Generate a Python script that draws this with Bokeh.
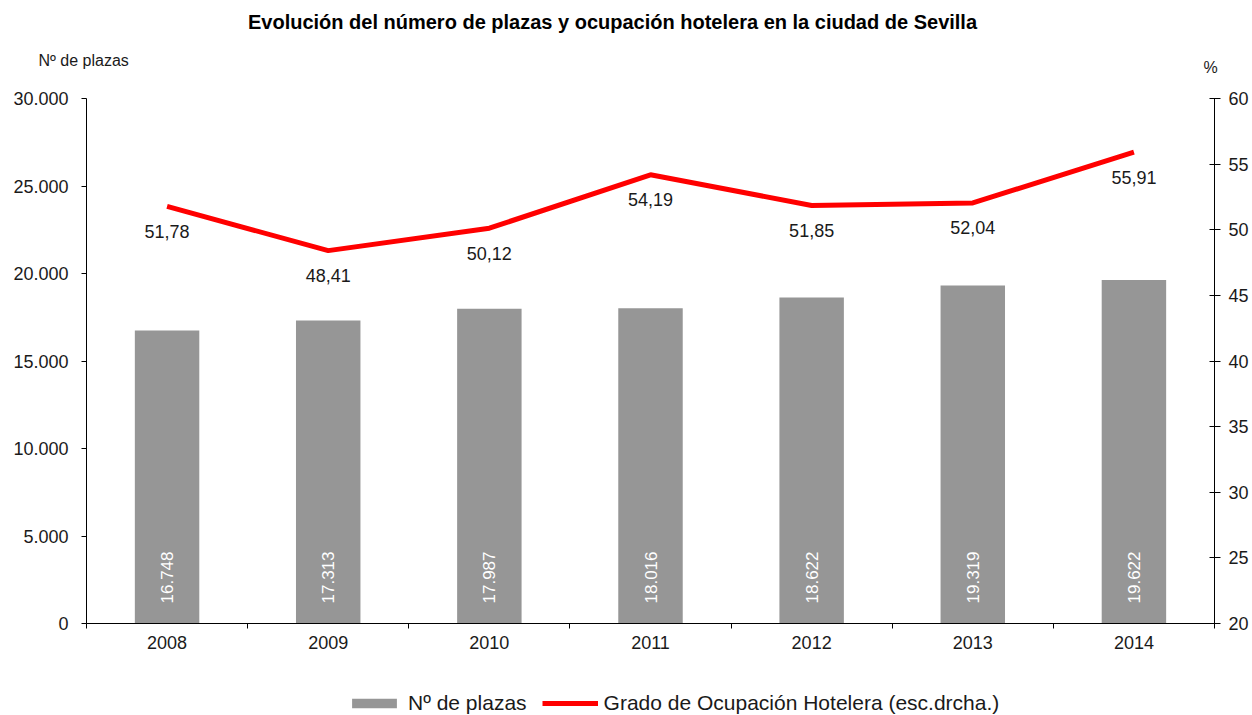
import numpy as np
from bokeh.plotting import figure
from bokeh.layouts import column
from bokeh.models import (Range1d, LinearAxis, FixedTicker, ColumnDataSource,
                          Label, Legend, LegendItem)
from bokeh.core.properties import value
from bokeh.embed import file_html
from bokeh.resources import INLINE

# ---------------- data ----------------
years = ["2008", "2009", "2010", "2011", "2012", "2013", "2014"]
plazas = [16748, 17313, 17987, 18016, 18622, 19319, 19622]
plazas_labels = ["16.748", "17.313", "17.987", "18.016", "18.622", "19.319", "19.622"]
ocupacion = [51.78, 48.41, 50.12, 54.19, 51.85, 52.04, 55.91]
ocupacion_labels = ["51,78", "48,41", "50,12", "54,19", "51,85", "52,04", "55,91"]
left_ticks = [0, 5000, 10000, 15000, 20000, 25000, 30000]
left_tick_labels = ["0", "5.000", "10.000", "15.000", "20.000", "25.000", "30.000"]
right_ticks = [20, 25, 30, 35, 40, 45, 50, 55, 60]
title_text = "Evolución del número de plazas y ocupación hotelera en la ciudad de Sevilla"
left_title = "Nº de plazas"
right_title = "%"
series_names = ["Nº de plazas", "Grado de Ocupación Hotelera (esc.drcha.)"]

FONT = "Liberation Sans"
TXT = "#1a1a1a"
BAR = "#969696"
RED = "#ff0000"
W = 1252
H_HEAD, H_MAIN, H_LEG = 86, 572, 57


def bare(fig):
    fig.outline_line_color = None
    fig.background_fill_color = "white"
    fig.border_fill_color = "white"
    fig.min_border = 0


def no_align(fig):
    if "frame_align" in fig.properties():
        fig.frame_align = False


# ---------------- header (titles) ----------------
head = figure(width=W, height=H_HEAD, output_backend="svg", toolbar_location=None,
              x_range=Range1d(0, W), y_range=Range1d(H_HEAD, 0),
              x_axis_type=None, y_axis_type=None)
bare(head)
no_align(head)
head.add_layout(Label(x=612, y=21, text=title_text, text_align="center",
                      text_baseline="middle", text_font=FONT, text_font_style="bold",
                      text_font_size="20px", text_color="black"))
head.add_layout(Label(x=38, y=60, text=left_title, text_align="left",
                      text_baseline="middle", text_font=FONT,
                      text_font_size="16px", text_color=TXT))
head.add_layout(Label(x=1210, y=67, text=right_title, text_align="center",
                      text_baseline="middle", text_font=FONT,
                      text_font_size="16px", text_color=TXT))

# ---------------- main chart ----------------
idx = list(range(len(years)))
src = ColumnDataSource(dict(x=idx, plazas=plazas, plab=plazas_labels,
                            ocup=ocupacion, olab=ocupacion_labels))

p = figure(width=W, height=H_MAIN, output_backend="svg", toolbar_location=None,
           x_range=Range1d(-0.5, len(years) - 0.5), y_range=Range1d(0, 30000),
           x_axis_type=None, y_axis_type=None)
bare(p)
p.min_border_left = 86
p.min_border_right = 38
p.min_border_top = 12
p.min_border_bottom = 35
p.extra_y_ranges = {"pct": Range1d(20, 60)}


def style_axis(ax):
    ax.axis_line_color = "black"
    ax.axis_line_width = 1
    ax.major_tick_line_color = "black"
    ax.minor_tick_line_color = "black"
    ax.major_label_text_font = FONT
    ax.major_label_text_font_size = "18px"
    ax.major_label_text_color = TXT


xax = LinearAxis(ticker=FixedTicker(ticks=idx,
                                    minor_ticks=[i - 0.5 for i in range(len(years) + 1)]),
                 major_label_overrides={i: y for i, y in zip(idx, years)})
style_axis(xax)
xax.major_tick_out = 0
xax.major_tick_in = 0
xax.minor_tick_out = 5
xax.minor_tick_in = 0
xax.major_label_standoff = 7
p.add_layout(xax, "below")

lax = LinearAxis(ticker=FixedTicker(ticks=left_ticks),
                 major_label_overrides={t: l for t, l in zip(left_ticks, left_tick_labels)})
style_axis(lax)
lax.major_tick_out = 5
lax.major_tick_in = 0
lax.minor_tick_out = 0
lax.minor_tick_in = 0
lax.major_label_standoff = 13
p.add_layout(lax, "left")

rax = LinearAxis(y_range_name="pct", ticker=FixedTicker(ticks=right_ticks))
style_axis(rax)
rax.major_tick_out = 6
rax.major_tick_in = 5
rax.minor_tick_out = 0
rax.minor_tick_in = 0
rax.major_label_standoff = 8
p.add_layout(rax, "right")

p.vbar(x="x", top="plazas", width=0.4, source=src, fill_color=BAR, line_color=None)
p.text(x="x", y=0, text="plab", source=src, angle=np.pi / 2,
       text_align="left", text_baseline="middle", y_offset=-20,
       text_color="white", text_font=value(FONT), text_font_style="normal",
       text_font_size="17px")

p.line(x="x", y="ocup", source=src, y_range_name="pct", line_color=RED, line_width=5)
p.text(x="x", y="ocup", text="olab", source=src, y_range_name="pct",
       text_align="center", text_baseline="middle", y_offset=25,
       text_color=TXT, text_font=value(FONT), text_font_size="18px")

# ---------------- legend strip ----------------
leg = figure(width=W, height=H_LEG, output_backend="svg", toolbar_location=None,
             x_range=Range1d(0, 1), y_range=Range1d(0, 1),
             x_axis_type=None, y_axis_type=None)
bare(leg)
no_align(leg)
# hidden proxies (same data) so the legend can draw its swatches
lb = leg.vbar(x="x", top="plazas", width=0.4, source=src, fill_color=BAR,
              line_color=None, visible=False)
ll = leg.line(x="x", y="ocup", source=src, line_color=RED, line_width=5, visible=False)
legend = Legend(items=[LegendItem(label=series_names[0], renderers=[lb]),
                       LegendItem(label=series_names[1], renderers=[ll])],
                orientation="horizontal", location=(346, 0),
                glyph_width=56, glyph_height=12, label_standoff=6, spacing=15,
                padding=0, margin=0, border_line_color=None,
                background_fill_alpha=0, inactive_fill_alpha=0,
                label_text_font=FONT, label_height=20,
                label_text_font_size="21px", label_text_color=TXT,
                label_text_baseline="middle")
leg.add_layout(legend)

layout = column(head, p, leg, spacing=0)
open("out.html", "w").write(file_html(layout, INLINE))
